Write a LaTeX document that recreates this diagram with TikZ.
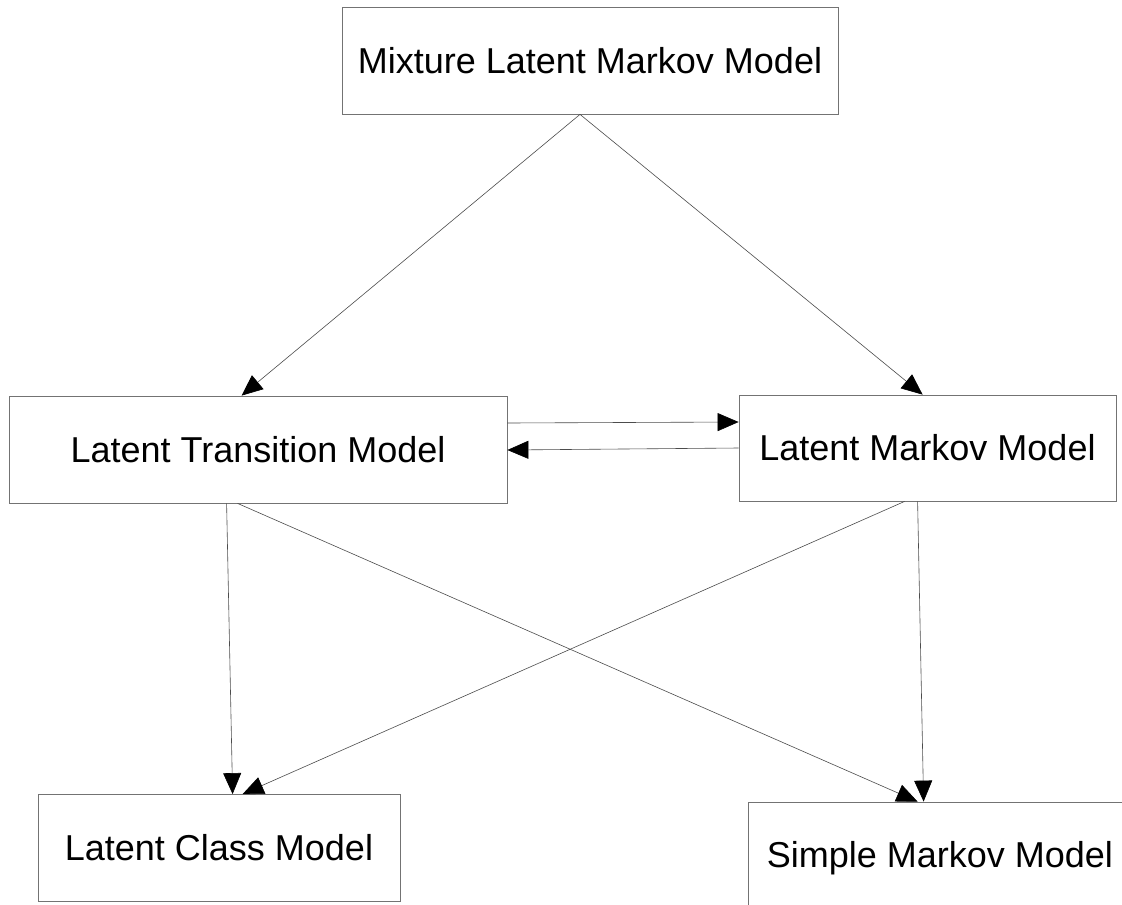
\documentclass[tikz,border=0pt]{standalone}
\usepackage{fontspec}
\setmainfont{Liberation Sans}
\usetikzlibrary{arrows.meta}
\begin{document}
\begin{tikzpicture}[x=1pt,y=-1pt,
  box/.style={draw=black!55,line width=0.8pt,fill=white,inner sep=0pt,
    font=\fontsize{36}{40}\selectfont,text height=25pt,text depth=0pt},
  conn/.style={draw=black!70,line width=0.6pt,-{Triangle[length=21pt,width=18pt,color=black,fill=black]}}]
\clip (0,0) rectangle (1122,905);
\fill[white] (0,0) rectangle (1122,905);
\node[box,minimum width=496pt,minimum height=107pt] (top) at (590,60.5) {Mixture Latent Markov Model};
\node[box,minimum width=498pt,minimum height=107pt] (ltm) at (258,449.5) {Latent Transition Model};
\node[box,minimum width=377pt,minimum height=106pt] (lmm) at (927.5,448) {Latent Markov Model};
\node[box,minimum width=362pt,minimum height=107pt] (lcm) at (219,848) {Latent Class Model};
\node[box,minimum width=384pt,minimum height=106pt] (smm) at (940,855) {Simple Markov Model};
\draw[conn] ([xshift=-10pt]top.south) -- ([xshift=233pt]ltm.north west);
\draw[conn] ([xshift=-10pt]top.south) -- ([xshift=184pt]lmm.north west);
\draw[conn] ([xshift=218pt]ltm.south west) -- ([xshift=195pt]lcm.north west);
\draw[conn] ([xshift=229pt]ltm.south west) -- ([xshift=170pt]smm.north west);
\draw[conn] ([xshift=166pt]lmm.south west) -- ([xshift=205pt]lcm.north west);
\draw[conn] ([xshift=179pt]lmm.south west) -- ([xshift=176pt]smm.north west);
\draw[conn] ([yshift=26.5pt]ltm.east) -- ([yshift=26pt]lmm.west);
\draw[conn] (lmm.west) -- ([yshift=-0.5pt]ltm.east);
\end{tikzpicture}
\end{document}
